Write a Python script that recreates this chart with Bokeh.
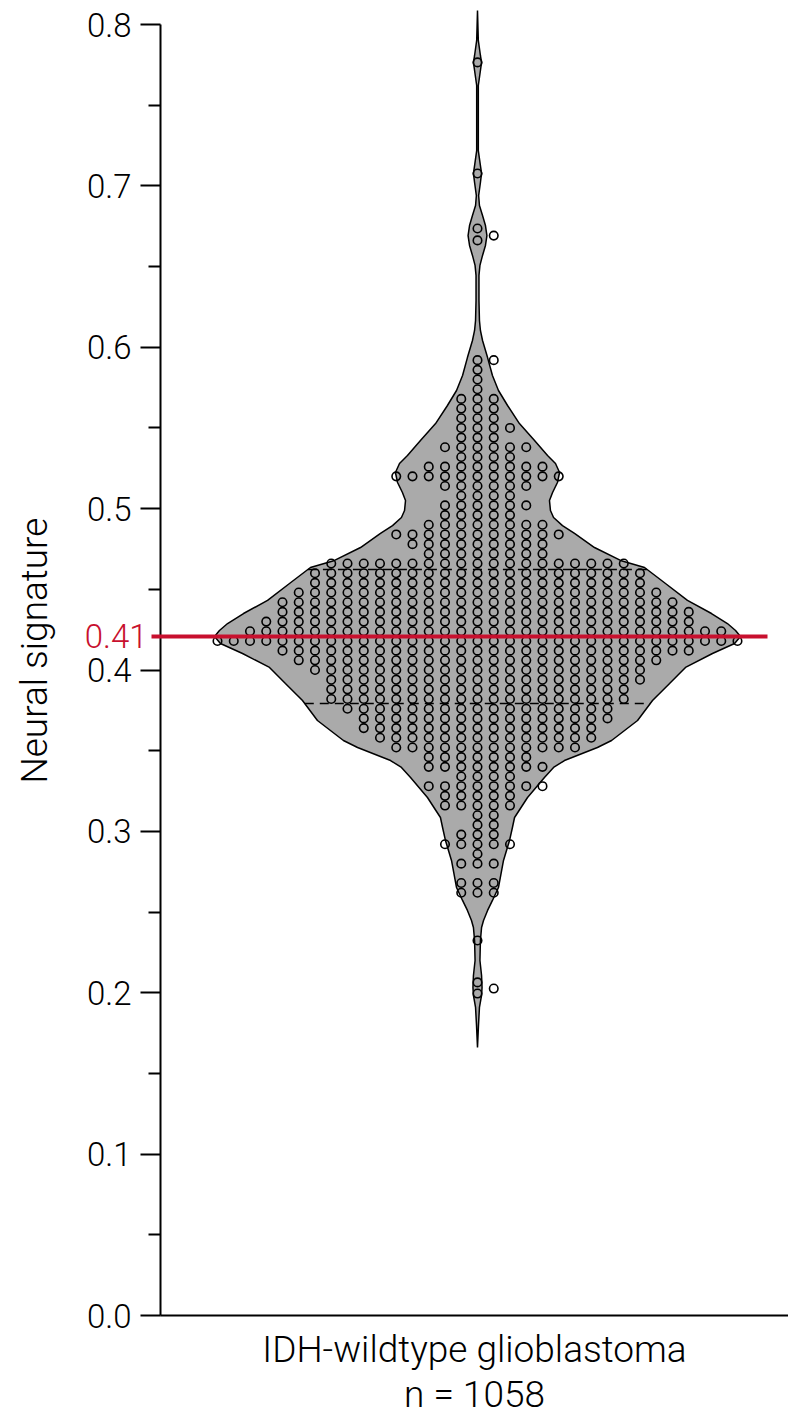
import numpy as np
from bokeh.plotting import figure
from bokeh.models import Range1d, FixedTicker, BoxAnnotation, Label
from bokeh.embed import file_html
from bokeh.resources import INLINE

# ---------------- data ----------------
# swarm rows: value of the row and number of circles in it
row_values = [0.592, 0.586, 0.580, 0.574, 0.568, 0.562, 0.556, 0.550, 0.544, 0.538,
              0.532, 0.526, 0.520, 0.514, 0.508, 0.502, 0.496, 0.490, 0.484, 0.478,
              0.472, 0.466, 0.460, 0.454, 0.448, 0.442, 0.436, 0.430, 0.424, 0.418,
              0.412, 0.406, 0.400, 0.394, 0.388, 0.382, 0.376, 0.370, 0.364, 0.358,
              0.352, 0.346, 0.340, 0.334, 0.328, 0.322, 0.316, 0.310, 0.304, 0.298,
              0.292, 0.286, 0.280, 0.274, 0.268, 0.262]
row_counts = [2, 1, 1, 1, 3, 3, 3, 4, 3, 6,
              4, 8, 11, 6, 4, 6, 5, 8, 11, 9,
              8, 19, 21, 21, 23, 25, 26, 27, 30, 33,
              26, 23, 21, 20, 19, 19, 17, 16, 15, 14,
              12, 7, 8, 4, 8, 5, 5, 2, 2, 3,
              5, 1, 3, 0, 3, 3]
# isolated samples in the tails
outlier_values = [0.7765, 0.7077, 0.6736, 0.6692, 0.6662, 0.2324, 0.2064, 0.2026, 0.1995]

# violin outline: value and half width (in swarm-column units)
violin_values = [0.8087, 0.7901, 0.7808, 0.7765, 0.7715, 0.7622, 0.7219, 0.7126, 0.7077, 0.7021,
                 0.6940, 0.6878, 0.6816, 0.6754, 0.6692, 0.6631, 0.6569, 0.6507, 0.6445, 0.6290,
                 0.6166, 0.6104, 0.6042, 0.5936, 0.5825, 0.5732, 0.5639, 0.5527, 0.5422, 0.5329,
                 0.5280, 0.5224, 0.5162, 0.5100, 0.5050, 0.4988, 0.4945, 0.4895, 0.4846, 0.4759,
                 0.4679, 0.4635, 0.4536, 0.4431, 0.4350, 0.4288, 0.4245, 0.4208, 0.4164, 0.4102,
                 0.4016, 0.3916, 0.3811, 0.3687, 0.3563, 0.3520, 0.3439, 0.3396, 0.3334, 0.3210,
                 0.3086, 0.3024, 0.2943, 0.2820, 0.2652, 0.2572, 0.2510, 0.2448, 0.2404, 0.2324,
                 0.2200, 0.2107, 0.2033, 0.1983, 0.1909, 0.1797, 0.1661]
violin_halfwidth = [0.00, 0.05, 0.18, 0.25, 0.18, 0.05, 0.05, 0.18, 0.25, 0.18,
                    0.07, 0.12, 0.31, 0.49, 0.58, 0.49, 0.31, 0.15, 0.09, 0.09,
                    0.12, 0.18, 0.31, 0.62, 0.92, 1.29, 1.85, 2.58, 3.51, 4.31,
                    4.80, 5.05, 4.92, 4.62, 4.43, 4.49, 4.68, 5.23, 5.97, 7.20,
                    8.80, 10.28, 11.57, 12.92, 14.40, 15.38, 15.88, 16.18, 15.82, 14.46,
                    12.80, 11.82, 10.77, 9.85, 8.25, 7.38, 5.35, 4.68, 4.12, 3.08,
                    2.28, 2.15, 1.97, 1.60, 1.29, 0.92, 0.62, 0.37, 0.25, 0.18,
                    0.15, 0.25, 0.28, 0.25, 0.12, 0.06, 0.00]
quartile_values = [0.3792, 0.4623]

threshold_value = 0.4208
threshold_text = "0.41"

group_name = "IDH-wildtype glioblastoma"
group_n = "n = 1058"
y_axis_title = "Neural signature"

y_tick_values = [0.0, 0.1, 0.2, 0.3, 0.4, 0.5, 0.6, 0.7, 0.8]
y_tick_labels = ["0.0", "0.1", "0.2", "0.3", "0.4", "0.5", "0.6", "0.7", "0.8"]
y_minor_values = [0.05, 0.15, 0.25, 0.35, 0.45, 0.55, 0.65, 0.75]

# ---------------- style / layout ----------------
FONT = "Roboto Light"
RED = "#c8102e"
GRAY = "#aaaaaa"
TICK_FS = "33px"
LABEL_FS = "37px"
COL_PX = 16.25          # pixels per swarm column
AXIS_PX = 160           # y axis position on the canvas
ZERO_PX = 1315          # y = 0 position on the canvas
CENTER_PX = 477         # violin centre on the canvas
Y_PX = 1613.75          # pixels per unit of the signature
W, H = 788, 1416

# ---------------- swarm layout (column packing) ----------------
def swarm_columns(vals, min_gap):
    vals = np.asarray(vals, dtype=float)
    order = np.argsort(-vals, kind="stable")
    cols = {}
    out = np.zeros(len(vals))
    cand = [0]
    for j in range(1, 80):
        cand += [j, -j]
    for i in order:
        v = vals[i]
        for c in cand:
            if all(abs(v - u) >= min_gap for u in cols.get(c, [])):
                break
        cols.setdefault(c, []).append(v)
        out[i] = c
    return out

point_values = np.concatenate([np.repeat(row_values, row_counts), outlier_values])
point_cols = swarm_columns(point_values, 0.0058)

# ---------------- figure ----------------
x_start = (0 - CENTER_PX) / COL_PX
x_end = (W - CENTER_PX) / COL_PX
axis_x = (AXIS_PX - CENTER_PX) / COL_PX
y_start = (ZERO_PX - H) / Y_PX
y_end = ZERO_PX / Y_PX

p = figure(width=W, height=H,
           x_range=Range1d(x_start, x_end), y_range=Range1d(y_start, y_end),
           output_backend="svg", toolbar_location=None,
           min_border_left=0, min_border_right=0,
           min_border_top=0, min_border_bottom=0)
p.outline_line_color = None
p.xgrid.visible = False
p.ygrid.visible = False
p.background_fill_color = "white"

vv = np.asarray(violin_values)
hw = np.asarray(violin_halfwidth)
p.patch(np.concatenate([hw, -hw[::-1]]), np.concatenate([vv, vv[::-1]]),
        fill_color=GRAY, line_color="black", line_width=1.5)

srt = np.argsort(vv)
for q in quartile_values:
    w = float(np.interp(q, vv[srt], hw[srt]))
    p.segment(x0=[-w], x1=[w], y0=[q], y1=[q], line_color="black",
              line_width=1.5, line_dash="9 6")

p.scatter(point_cols, point_values, marker="circle", size=8.5,
          fill_color=None, line_color="black", line_width=1.6)

# threshold line and its label
half_t = 2.0 / Y_PX
p.add_layout(BoxAnnotation(left=AXIS_PX - 9, left_units="screen",
                           right=W - 21, right_units="screen",
                           bottom=threshold_value - half_t, top=threshold_value + half_t,
                           fill_color=RED, fill_alpha=1.0, line_color=None))
p.add_layout(Label(x=axis_x, y=threshold_value, x_offset=-13, text=threshold_text,
                   text_align="right", text_baseline="middle", text_color=RED,
                   text_font=FONT, text_font_size=TICK_FS))

# y axis title
p.add_layout(Label(x=axis_x, y=0.412, x_offset=-(AXIS_PX - 34), text=y_axis_title,
                   angle=np.pi / 2, text_align="center", text_baseline="middle",
                   text_color="black", text_font=FONT, text_font_size=LABEL_FS))

# y axis
ya = p.yaxis[0]
ya.fixed_location = axis_x
ya.ticker = FixedTicker(ticks=y_tick_values, minor_ticks=y_minor_values)
ya.major_label_overrides = {t: l for t, l in zip(y_tick_values, y_tick_labels)}
ya.bounds = (0, 0.8)
ya.axis_line_width = 2
ya.major_tick_line_width = 2
ya.minor_tick_line_width = 2
ya.major_tick_out = 20
ya.major_tick_in = 0
ya.minor_tick_out = 12
ya.minor_tick_in = 0
ya.major_label_text_font = FONT
ya.major_label_text_font_size = TICK_FS
ya.major_label_text_color = "black"
ya.major_label_standoff = 9

# x axis
xa = p.xaxis[0]
label_x = (axis_x + x_end) / 2
xa.fixed_location = 0
xa.bounds = (axis_x, x_end)
xa.ticker = FixedTicker(ticks=[label_x], minor_ticks=[])
xa.major_label_overrides = {label_x: group_name}
xa.axis_line_width = 2
xa.major_tick_out = 0
xa.major_tick_in = 0
xa.minor_tick_out = 0
xa.minor_tick_in = 0
xa.major_label_text_font = FONT
xa.major_label_text_font_size = LABEL_FS
xa.major_label_text_color = "black"
xa.major_label_standoff = 12

# second line under the category name
p.add_layout(Label(x=label_x, y=0, y_offset=-(1394 - ZERO_PX), text=group_n,
                   text_align="center", text_baseline="alphabetic",
                   text_color="black", text_font=FONT, text_font_size=LABEL_FS))

open("out.html", "w").write(file_html(p, INLINE))
